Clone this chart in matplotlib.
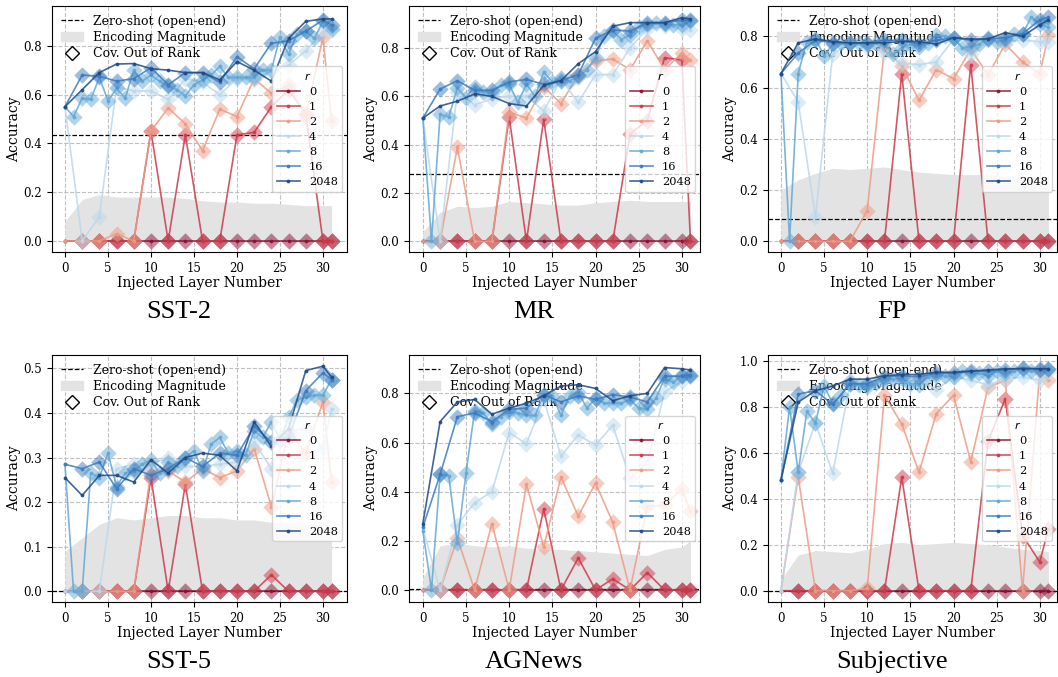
import matplotlib
matplotlib.use("Agg")
import matplotlib.pyplot as plt
from matplotlib.lines import Line2D
from matplotlib.patches import Patch

plt.rcParams["font.family"] = "DejaVu Serif"

# injected layers
layers_even = [0, 2, 4, 6, 8, 10, 12, 14, 16, 18, 20, 22, 24, 26, 28, 30, 31]
layers_all = list(range(32))

ranks = ["0", "1", "2", "4", "8", "16", "2048"]
rank_colors = ["#8c1032", "#cd3a4a", "#ee9b83", "#bcd8ec", "#62a8d5", "#3a7cbf", "#1f4a85"]

# ---- SST-2
sst2_zero = 0.435
sst2_enc = [0.08, 0.17, 0.19, 0.18, 0.18, 0.18, 0.18, 0.175, 0.165, 0.16, 0.16, 0.155, 0.155, 0.15, 0.145, 0.145, 0.145]
sst2_r0 = [0, 0, 0, 0, 0, 0, 0, 0, 0, 0, 0, 0, 0, 0, 0, 0, 0]
sst2_r1 = [0, 0, 0, 0, 0, 0.45, 0, 0.435, 0, 0, 0.435, 0.445, 0.55, 0.62, 0.52, 0, 0]
sst2_r2 = [0, 0, 0, 0.03, 0, 0.45, 0.545, 0.48, 0.37, 0.54, 0.51, 0.665, 0.605, 0.64, 0.51, 0.835, 0.49]
sst2_r4 = [0.55, 0, 0.10, 0.63, 0.615, 0.615, 0.58, 0.665, 0.65, 0.60, 0.665, 0.665, 0.695, 0.72, 0.78, 0.855, 0.865]
sst2_r8 = [0.55, 0.51, 0.585, 0.58, 0.67, 0.575, 0.625, 0.585, 0.70, 0.655, 0.68, 0.655, 0.635, 0.62, 0.595, 0.64,
           0.66, 0.68, 0.715, 0.67, 0.67, 0.67, 0.67, 0.70, 0.70, 0.835, 0.765, 0.85, 0.86, 0.83, 0.90, 0.87]
sst2_r16 = [0.55, 0.68, 0.675, 0.655, 0.665, 0.71, 0.64, 0.69, 0.69, 0.65, 0.755, 0.705, 0.81, 0.82, 0.86, 0.905, 0.885]
sst2_r2048 = [0.55, 0.62, 0.69, 0.725, 0.727, 0.706, 0.70, 0.69, 0.69, 0.66, 0.735, 0.70, 0.655, 0.83, 0.90, 0.91, 0.91]

# ---- MR
mr_zero = 0.28
mr_enc = [0.04, 0.12, 0.145, 0.14, 0.145, 0.165, 0.16, 0.155, 0.15, 0.15, 0.16, 0.165, 0.17, 0.165, 0.165, 0.165, 0.165]
mr_r0 = [0, 0, 0, 0, 0, 0, 0, 0, 0, 0, 0, 0, 0, 0, 0, 0, 0]
mr_r1 = [0, 0, 0, 0, 0, 0.515, 0, 0.505, 0, 0, 0, 0, 0.445, 0.50, 0.76, 0.75, 0]
mr_r2 = [0, 0, 0.39, 0, 0, 0.535, 0.51, 0.64, 0.57, 0.69, 0.745, 0.755, 0.71, 0.83, 0.71, 0.78, 0.75]
mr_r4 = [0.51, 0, 0.62, 0.565, 0.59, 0.60, 0.60, 0.54, 0.67, 0.575, 0.69, 0.69, 0.80, 0.88, 0.89, 0.88, 0.875]
mr_r8 = [0.51, 0, 0.525, 0.515, 0.635, 0.595, 0.64, 0.62, 0.615, 0.645, 0.65, 0.575, 0.65, 0.60, 0.70, 0.66,
         0.675, 0.665, 0.68, 0.71, 0.76, 0.85, 0.87, 0.835, 0.855, 0.885, 0.895, 0.905, 0.90, 0.895, 0.895, 0.91]
mr_r16 = [0.51, 0.63, 0.665, 0.625, 0.625, 0.66, 0.67, 0.65, 0.665, 0.69, 0.84, 0.875, 0.87, 0.905, 0.905, 0.915, 0.915]
mr_r2048 = [0.51, 0.56, 0.58, 0.61, 0.60, 0.57, 0.56, 0.645, 0.665, 0.735, 0.785, 0.89, 0.905, 0.905, 0.905, 0.925, 0.92]

# ---- FP
fp_zero = 0.085
fp_enc = [0.2, 0.24, 0.265, 0.285, 0.28, 0.285, 0.29, 0.28, 0.27, 0.265, 0.26, 0.26, 0.26, 0.255, 0.255, 0.25, 0.25]
fp_r0 = [0, 0, 0, 0, 0, 0, 0, 0, 0, 0, 0, 0, 0, 0, 0, 0, 0]
fp_r1 = [0, 0, 0, 0, 0, 0, 0, 0.655, 0, 0, 0, 0.69, 0, 0, 0, 0, 0]
fp_r2 = [0, 0, 0, 0, 0, 0.12, 0.755, 0.685, 0.55, 0.67, 0.635, 0.75, 0.65, 0.77, 0.70, 0.655, 0.805]
fp_r4 = [0.655, 0.545, 0.095, 0.73, 0.775, 0.76, 0.735, 0.695, 0.69, 0.70, 0.79, 0.73, 0.785, 0.78, 0.785, 0.78, 0.78]
fp_r8 = [0.655, 0, 0.655, 0.78, 0.79, 0.725, 0.77, 0.775, 0.775, 0.775, 0.77, 0.775, 0.77, 0.73, 0.755, 0.77,
         0.76, 0.775, 0.805, 0.80, 0.795, 0.755, 0.76, 0.77, 0.795, 0.78, 0.785, 0.81, 0.81, 0.875, 0.85, 0.835]
fp_r16 = [0.655, 0.735, 0.785, 0.775, 0.775, 0.775, 0.785, 0.785, 0.77, 0.785, 0.795, 0.785, 0.79, 0.795, 0.81, 0.865, 0.875]
fp_r2048 = [0.655, 0.775, 0.79, 0.78, 0.775, 0.775, 0.775, 0.78, 0.78, 0.77, 0.795, 0.79, 0.79, 0.815, 0.80, 0.845, 0.865]

# ---- SST-5
sst5_zero = 0.0
sst5_enc = [0.09, 0.12, 0.15, 0.165, 0.16, 0.165, 0.17, 0.17, 0.165, 0.165, 0.16, 0.16, 0.155, 0.155, 0.15, 0.15, 0.15]
sst5_r0 = [0, 0, 0, 0, 0, 0, 0, 0, 0, 0, 0, 0, 0, 0, 0, 0, 0]
sst5_r1 = [0, 0, 0, 0, 0, 0.255, 0, 0.24, 0, 0, 0, 0, 0.037, 0, 0, 0, 0]
sst5_r2 = [0, 0, 0, 0, 0, 0.27, 0.27, 0.245, 0.275, 0.255, 0.27, 0.32, 0.19, 0.36, 0.31, 0.425, 0.245]
sst5_r4 = [0, 0, 0, 0.275, 0.285, 0.285, 0.30, 0.28, 0.28, 0.285, 0.29, 0.335, 0.275, 0.36, 0.365, 0.32, 0.41]
sst5_r8 = [0.285, 0, 0, 0.265, 0.255, 0.31, 0.235, 0.265, 0.27, 0.285, 0.295, 0.265, 0.29, 0.28, 0.30, 0.315,
           0.27, 0.33, 0.345, 0.31, 0.315, 0.305, 0.36, 0.345, 0.38, 0.34, 0.39, 0.43, 0.435, 0.44, 0.44, 0.475]
sst5_r16 = [0.285, 0.275, 0.29, 0.23, 0.275, 0.26, 0.275, 0.30, 0.28, 0.31, 0.305, 0.37, 0.335, 0.345, 0.45, 0.49, 0.475]
sst5_r2048 = [0.255, 0.215, 0.26, 0.26, 0.245, 0.295, 0.265, 0.30, 0.31, 0.305, 0.27, 0.38, 0.325, 0.365, 0.495, 0.505, 0.48]

# ---- AGNews
ag_zero = 0.005
ag_enc = [0.05, 0.18, 0.19, 0.18, 0.175, 0.18, 0.17, 0.165, 0.165, 0.16, 0.155, 0.15, 0.145, 0.14, 0.165, 0.175, 0.2]
ag_r0 = [0, 0, 0, 0, 0, 0, 0, 0, 0, 0, 0, 0, 0, 0, 0, 0, 0]
ag_r1 = [0, 0, 0, 0, 0, 0, 0, 0.33, 0, 0.13, 0, 0.045, 0, 0.07, 0, 0, 0]
ag_r2 = [0, 0, 0.21, 0, 0.27, 0, 0.43, 0.175, 0.46, 0.30, 0.435, 0.275, 0, 0.34, 0.345, 0.41, 0.32]
ag_r4 = [0.25, 0, 0.265, 0.355, 0.40, 0.64, 0.595, 0.775, 0.545, 0.63, 0.59, 0.67, 0.455, 0.515, 0.805, 0.85, 0.87]
ag_r8 = [0.24, 0, 0.47, 0.465, 0.19, 0.475, 0.73, 0.72, 0.675, 0.705, 0.725, 0.72, 0.71, 0.71, 0.795, 0.79,
         0.71, 0.79, 0.805, 0.74, 0.78, 0.76, 0.76, 0.76, 0.775, 0.74, 0.735, 0.78, 0.86, 0.845, 0.875, 0.87]
ag_r16 = [0.255, 0.47, 0.705, 0.72, 0.685, 0.735, 0.74, 0.795, 0.765, 0.79, 0.775, 0.795, 0.785, 0.765, 0.87, 0.87, 0.875]
ag_r2048 = [0.27, 0.685, 0.765, 0.775, 0.715, 0.74, 0.76, 0.79, 0.83, 0.835, 0.82, 0.77, 0.79, 0.80, 0.905, 0.90, 0.895]

# ---- Subjective
subj_zero = 0.0
subj_enc = [0.05, 0.155, 0.175, 0.17, 0.165, 0.18, 0.205, 0.21, 0.2, 0.205, 0.21, 0.205, 0.2, 0.19, 0.18, 0.175, 0.17]
subj_r0 = [0, 0, 0, 0, 0, 0, 0, 0, 0, 0, 0, 0, 0, 0, 0, 0, 0]
subj_r1 = [0, 0, 0, 0, 0, 0, 0, 0.495, 0, 0, 0, 0, 0.65, 0.835, 0.24, 0.125, 0.27]
subj_r2 = [0, 0.495, 0, 0, 0, 0.01, 0.85, 0.725, 0.515, 0.77, 0.85, 0.56, 0.885, 0.915, 0, 0.955, 0.915]
subj_r4 = [0, 0.515, 0.73, 0.51, 0.90, 0.905, 0.91, 0.91, 0.915, 0.875, 0.93, 0.915, 0.895, 0.92, 0.93, 0.915, 0.95]
subj_r8 = [0.48, 0.80, 0.515, 0.78, 0.73, 0.89, 0.815, 0.85, 0.91, 0.895, 0.885, 0.905, 0.92, 0.92, 0.925, 0.90,
           0.895, 0.93, 0.935, 0.935, 0.93, 0.955, 0.945, 0.945, 0.935, 0.955, 0.945, 0.955, 0.965, 0.955, 0.96, 0.965]
subj_r16 = [0.48, 0.855, 0.87, 0.81, 0.90, 0.90, 0.93, 0.935, 0.93, 0.945, 0.945, 0.955, 0.955, 0.96, 0.97, 0.965, 0.965]
subj_r2048 = [0.48, 0.82, 0.87, 0.89, 0.92, 0.92, 0.935, 0.94, 0.94, 0.95, 0.95, 0.955, 0.96, 0.965, 0.965, 0.965, 0.965]


def draw_panel(ax, title, series, zero, enc, yticks, ylim, xlim):
    ax.fill_between(layers_even, 0, enc, color="#e3e3e3", lw=0, zorder=1)
    ax.axhline(zero, color="black", ls="--", lw=0.9, zorder=2)
    handles = []
    for r, ys, col in zip(ranks, series, rank_colors):
        xs = layers_all if len(ys) == 32 else layers_even
        h, = ax.plot(xs, ys, color=col, lw=1.2, alpha=0.85, marker=".", ms=3.5, zorder=3)
        handles.append(h)
        if r != "2048":
            ax.scatter(xs[1:], ys[1:], marker="D", s=70, color=col, alpha=0.5, lw=0, zorder=3)
    ax.set_xlim(*xlim)
    ax.set_ylim(*ylim)
    ax.set_xticks([0, 5, 10, 15, 20, 25, 30])
    ax.set_yticks(yticks)
    ax.set_yticklabels([f"{v:.1f}" for v in yticks])
    ax.tick_params(labelsize=8.5, length=3.5)
    ax.grid(True, ls="--", color="#c0c0c0", lw=0.8)
    ax.set_axisbelow(True)
    ax.set_xlabel("Injected Layer Number", fontsize=10, labelpad=1)
    ax.set_ylabel("Accuracy", fontsize=10, labelpad=2)

    top = [Line2D([], [], color="black", ls="--", lw=0.9),
           Patch(color="#e3e3e3"),
           Line2D([], [], ls="", marker="D", ms=7, mfc="white", mec="black", mew=1)]
    leg1 = ax.legend(top, ["Zero-shot (open-end)", "Encoding Magnitude", "Cov. Out of Rank"],
                     loc="upper left", frameon=False, fontsize=9, handlelength=1.8,
                     borderaxespad=0.3, labelspacing=0.25)
    leg1.set_zorder(1.5)
    ax.add_artist(leg1)
    leg2 = ax.legend(handles, ranks, title="$r$", loc="center right", fontsize=8.2,
                     title_fontsize=8.2, handlelength=2.0, labelspacing=0.45,
                     borderaxespad=0.4)
    leg2.set_zorder(5)

    pos = ax.get_position()
    fig.text(pos.x0 + pos.width * 0.43, pos.y0 - 0.088, title, ha="center", va="center",
             fontsize=19, family="Liberation Serif")


fig = plt.figure(figsize=(10.58, 6.77), dpi=100)

col_x = [(0.0492, 0.2788), (0.3866, 0.2750), (0.7259, 0.2732)]
row_y = [(0.6278, 0.3634), (0.1108, 0.3648)]
xlims = [(-1.5, 32.8), (-1.6, 32.1), (-1.5, 32.0)]

panels = [
    ("SST-2", [sst2_r0, sst2_r1, sst2_r2, sst2_r4, sst2_r8, sst2_r16, sst2_r2048], sst2_zero, sst2_enc,
     [0.0, 0.2, 0.4, 0.6, 0.8], (-0.045, 0.963)),
    ("MR", [mr_r0, mr_r1, mr_r2, mr_r4, mr_r8, mr_r16, mr_r2048], mr_zero, mr_enc,
     [0.0, 0.2, 0.4, 0.6, 0.8], (-0.044, 0.974)),
    ("FP", [fp_r0, fp_r1, fp_r2, fp_r4, fp_r8, fp_r16, fp_r2048], fp_zero, fp_enc,
     [0.0, 0.2, 0.4, 0.6, 0.8], (-0.042, 0.919)),
    ("SST-5", [sst5_r0, sst5_r1, sst5_r2, sst5_r4, sst5_r8, sst5_r16, sst5_r2048], sst5_zero, sst5_enc,
     [0.0, 0.1, 0.2, 0.3, 0.4, 0.5], (-0.024, 0.53)),
    ("AGNews", [ag_r0, ag_r1, ag_r2, ag_r4, ag_r8, ag_r16, ag_r2048], ag_zero, ag_enc,
     [0.0, 0.2, 0.4, 0.6, 0.8], (-0.049, 0.956)),
    ("Subjective", [subj_r0, subj_r1, subj_r2, subj_r4, subj_r8, subj_r16, subj_r2048], subj_zero, subj_enc,
     [0.0, 0.2, 0.4, 0.6, 0.8, 1.0], (-0.049, 1.025)),
]

for i, (title, series, zero, enc, yticks, ylim) in enumerate(panels):
    row, col = divmod(i, 3)
    ax = fig.add_axes([col_x[col][0], row_y[row][0], col_x[col][1], row_y[row][1]])
    draw_panel(ax, title, series, zero, enc, yticks, ylim, xlims[col])

fig.savefig("out.png", dpi=100)
